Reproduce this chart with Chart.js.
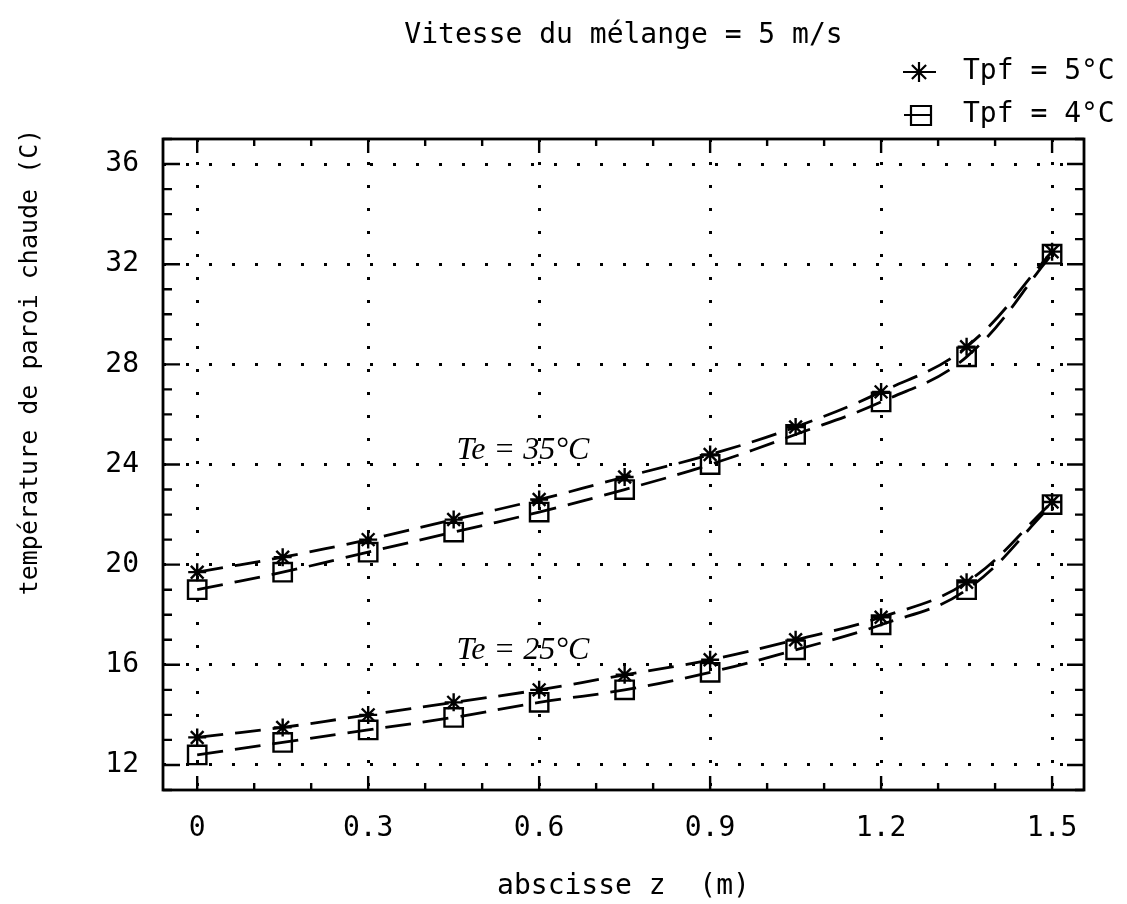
<!DOCTYPE html>
<html>
<head>
<meta charset="utf-8">
<script src="https://cdn.jsdelivr.net/npm/chart.js@4.4.1/dist/chart.umd.min.js"></script>
<style>
  html, body { margin: 0; padding: 0; background: #fff; }
  #wrap { width: 1127px; height: 904px; }
</style>
</head>
<body>
<div id="wrap"><canvas id="paroi_chart"></canvas></div>
<script>
'use strict';

// abscisse z (m)
const z_values = [0, 0.15, 0.3, 0.45, 0.6, 0.75, 0.9, 1.05, 1.2, 1.35, 1.5];

// Te = 35°C
const te35_tpf5 = [19.7, 20.3, 21.0, 21.8, 22.6, 23.5, 24.4, 25.5, 26.9, 28.7, 32.5];
const te35_tpf4 = [19.0, 19.7, 20.5, 21.3, 22.1, 23.0, 24.0, 25.2, 26.5, 28.3, 32.4];

// Te = 25°C
const te25_tpf5 = [13.1, 13.5, 14.0, 14.5, 15.0, 15.6, 16.2, 17.0, 17.9, 19.3, 22.5];
const te25_tpf4 = [12.4, 12.9, 13.4, 13.9, 14.5, 15.0, 15.7, 16.6, 17.6, 19.0, 22.4];

const x_ticks = [0, 0.3, 0.6, 0.9, 1.2, 1.5];
const y_ticks = [12, 16, 20, 24, 28, 32, 36];

const MONO = '"DejaVu Sans Mono", monospace';
const to_points = (ys) => z_values.map((z, i) => ({x: z, y: ys[i]}));

const line_style = {
    borderColor: '#000',
    borderWidth: 2.8,
    borderDash: [26, 12],
    tension: 0.4,
    fill: false,
    pointBorderColor: '#000',
    pointBackgroundColor: 'rgba(0,0,0,0)',
    pointBorderWidth: 2.4,
};
const star_pts = {pointStyle: 'star', pointRadius: 9};
const rect_pts = {pointStyle: 'rect', pointRadius: 13};

// frame, inward ticks, title, legend, labels
const decor = {
    id: 'decor',
    afterDraw(chart) {
        const {ctx, chartArea: a, scales: {x, y}} = chart;
        ctx.save();
        ctx.strokeStyle = '#000';
        ctx.fillStyle = '#000';
        ctx.setLineDash([]);

        ctx.lineWidth = 2.8;
        ctx.strokeRect(a.left, a.top, a.right - a.left, a.bottom - a.top);

        ctx.lineWidth = 2.4;
        ctx.beginPath();
        for (let i = 0; i <= 15; i++) {
            const px = x.getPixelForValue(i / 10);
            const len = i % 3 === 0 ? 14 : 7;
            ctx.moveTo(px, a.bottom); ctx.lineTo(px, a.bottom - len);
            ctx.moveTo(px, a.top); ctx.lineTo(px, a.top + len);
        }
        for (let v = 11; v <= 37; v++) {
            const py = y.getPixelForValue(v);
            const len = v % 4 === 0 ? 17 : 9;
            ctx.moveTo(a.left, py); ctx.lineTo(a.left + len, py);
            ctx.moveTo(a.right, py); ctx.lineTo(a.right - len, py);
        }
        ctx.stroke();

        // title
        ctx.font = '28px ' + MONO;
        ctx.textAlign = 'center';
        ctx.textBaseline = 'middle';
        ctx.fillText('Vitesse du mélange = 5 m/s', (a.left + a.right) / 2, 36);

        // legend
        ctx.textAlign = 'left';
        ctx.fillText('Tpf = 5°C', 963, 72);
        ctx.fillText('Tpf = 4°C', 963, 115);
        ctx.lineWidth = 2.2;
        ctx.beginPath();
        ctx.moveTo(903, 72); ctx.lineTo(936, 72);
        const r = 10;
        for (let k = 0; k < 4; k++) {
            const ang = k * Math.PI / 4;
            ctx.moveTo(919 - r * Math.cos(ang), 72 - r * Math.sin(ang));
            ctx.lineTo(919 + r * Math.cos(ang), 72 + r * Math.sin(ang));
        }
        ctx.moveTo(904, 115); ctx.lineTo(932, 115);
        ctx.rect(911, 106, 20, 19);
        ctx.stroke();

        // y axis title
        ctx.save();
        ctx.translate(30, 362);
        ctx.rotate(-Math.PI / 2);
        ctx.textAlign = 'center';
        ctx.font = '25px ' + MONO;
        ctx.fillText('température de paroi chaude (C)', 0, 0);
        ctx.restore();

        // curve labels
        ctx.font = 'italic 32px "Liberation Serif", serif';
        ctx.textAlign = 'left';
        ctx.textBaseline = 'middle';
        ctx.fillText('Te = 35°C', x.getPixelForValue(0.455), y.getPixelForValue(24.55));
        ctx.fillText('Te = 25°C', x.getPixelForValue(0.455), y.getPixelForValue(16.55));
        ctx.restore();
    }
};

const chart_el = document.getElementById('paroi_chart');

new Chart(chart_el, {
    type: 'line',
    data: {
        datasets: [
            {label: 'Tpf = 5°C', data: to_points(te35_tpf5), ...line_style, ...star_pts},
            {label: 'Tpf = 4°C', data: to_points(te35_tpf4), ...line_style, ...rect_pts},
            {label: 'Tpf = 5°C', data: to_points(te25_tpf5), ...line_style, ...star_pts},
            {label: 'Tpf = 4°C', data: to_points(te25_tpf4), ...line_style, ...rect_pts},
        ],
    },
    options: {
        responsive: true,
        maintainAspectRatio: false,
        animation: false,
        layout: {padding: {top: 139, right: 43, left: 0, bottom: 0}},
        plugins: {legend: {display: false}, tooltip: {enabled: false}},
        scales: {
            x: {
                type: 'linear',
                min: -0.06,
                max: 1.556,
                afterBuildTicks: (s) => { s.ticks = x_ticks.map(v => ({value: v})); },
                afterFit: (s) => { s.height = 114; },
                grid: {color: '#000', lineWidth: 3, drawTicks: false},
                border: {display: false, dash: [3, 20]},
                ticks: {
                    color: '#000',
                    font: {family: MONO, size: 28},
                    padding: 22,
                    maxRotation: 0,
                    autoSkip: false,
                    callback: (v) => String(v),
                },
                title: {
                    display: true,
                    text: 'abscisse z  (m)',
                    color: '#000',
                    font: {family: MONO, size: 28},
                    padding: {top: 12, bottom: 0},
                },
            },
            y: {
                min: 11,
                max: 37,
                afterBuildTicks: (s) => { s.ticks = y_ticks.map(v => ({value: v})); },
                afterFit: (s) => { s.width = 163; },
                grid: {color: '#000', lineWidth: 3, drawTicks: false},
                border: {display: false, dash: [3, 20]},
                ticks: {
                    color: '#000',
                    font: {family: MONO, size: 28},
                    padding: 24,
                },
            },
        },
    },
    plugins: [decor],
});
</script>
</body>
</html>
